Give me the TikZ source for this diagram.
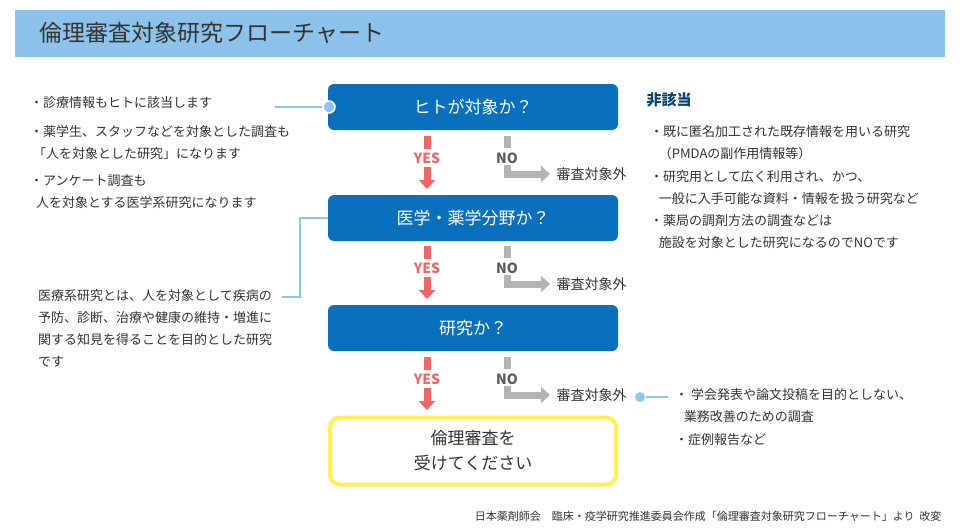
\documentclass[tikz,border=0pt]{standalone}
\usepackage{fontspec}
\setmainfont{Noto Sans CJK JP}
\usetikzlibrary{arrows.meta}
\definecolor{hdr}{HTML}{8DC3EA}
\definecolor{bluebox}{HTML}{0A70BE}
\definecolor{lblue}{HTML}{8CC6EE}
\definecolor{yesred}{HTML}{F26666}
\definecolor{nogray}{HTML}{B4B4B4}
\definecolor{txt}{HTML}{333333}
\definecolor{ylw}{HTML}{FFF150}
\begin{document}
\begin{tikzpicture}[x=1pt,y=-1pt,
 q/.style={draw=none,fill=bluebox,rounded corners=6pt,minimum width=290pt,minimum height=46pt,text=white,font=\fontsize{17}{20}\selectfont},
 t/.style={anchor=north west,text=txt,font=\fontsize{13}{22}\selectfont,align=left,inner sep=0pt},
 yes/.style={text=yesred,font=\bfseries\fontsize{14}{15}\selectfont},
 no/.style={text=txt!80,font=\bfseries\fontsize{14}{15}\selectfont},
 ex/.style={text=txt,font=\fontsize{14}{15}\selectfont,anchor=west},
 ya/.style={yesred,line width=7pt,-{Triangle[length=9pt,width=16pt]}},
 na/.style={nogray,line width=7pt,-{Triangle[length=9pt,width=16pt]}},
 dot/.style={circle,fill=lblue,draw=white,line width=1.5pt,minimum size=12pt,inner sep=0pt},
 ln/.style={lblue,line width=2pt}]
\useasboundingbox (0,0) rectangle (960,530);
\fill[white] (0,0) rectangle (960,530);
\fill[hdr] (15,10) rectangle (945,57);
\node[anchor=west,text=txt,font=\fontsize{23}{26}\selectfont] (title) at (36,33) {倫理審査対象研究フローチャート};
\node[q] (b1) at (473,107) {ヒトが対象か？};
\node[q] (b2) at (473,218) {医学・薬学分野か？};
\node[q] (b3) at (473,328) {研究か？};
\node[draw=ylw,line width=4pt,rounded corners=10pt,minimum width=286pt,minimum height=67pt,align=center,text=txt,font=\fontsize{17}{25}\selectfont] (b4) at (473,451) {倫理審査を\\受けてください};
\foreach \i/\y in {1/136,2/246,3/357}{
 \fill[yesred] (423.5,\y) rectangle (430.5,\y+13);
 \node[yes] (yes\i) at (427,\y+22) {YES};
 \coordinate (ys\i) at (427,\y+31);
 \coordinate (ye\i) at (427,\y+53);
 \draw[ya] (ys\i) -- (ye\i);
 \fill[nogray] (503.5,\y) rectangle (510.5,\y+12);
 \node[no] (no\i) at (507,\y+22) {NO};
 \coordinate (ns\i) at (507,\y+29);
 \coordinate (ne\i) at (550,\y+38);
 \draw[na] (ns\i) |- (ne\i);
 \node[ex] (ex\i) at (553,\y+38) {審査対象外};
}
% left notes
\node[dot] (d1) at (329,107) {};
\coordinate (l1) at (275,104);
\draw[ln] (d1) -- (l1 |- d1);
\node[t] (n1) at (30,96) {・診療情報もヒトに該当します};
\node[t] (n2) at (30,125) {・薬学生、スタッフなどを対象とした調査も\\\ 「人を対象とした研究」になります};
\node[t] (n3) at (30,174) {・アンケート調査も\\\ \ 人を対象とする医学系研究になります};
\coordinate (c2) at (300,297);
\draw[ln] (b2.west) -| (c2) -- (282,297);
\node[t] (n4) at (38,289) {医療系研究とは、人を対象として疾病の\\予防、診断、治療や健康の維持・増進に\\関する知見を得ることを目的とした研究\\です};
% right notes
\node[anchor=west,text=bluebox!60!black,font=\bfseries\fontsize{15}{17}\selectfont] (hg) at (643,100) {非該当};
\node[t] (r1) at (650,125) {・既に匿名加工された既存情報を用いる研究\\\ \ \ （PMDAの副作用情報等）};
\node[t] (r2) at (650,170) {・研究用として広く利用され、かつ、\\\ \ \ 一般に入手可能な資料・情報を扱う研究など};
\node[t] (r3) at (650,214) {・薬局の調剤方法の調査などは\\\ \ \ 施設を対象とした研究になるのでNOです};
\node[dot,draw=none,minimum size=10pt] (d3) at (640,397) {};
\coordinate (l3) at (668,397);
\draw[ln] (d3) -- (l3);
\node[t] (r4) at (675,388) {・ 学会発表や論文投稿を目的としない、\\\ \ \ 業務改善のための調査};
\node[t] (r5) at (675,433) {・症例報告など};
\node[anchor=east,text=txt,font=\fontsize{11}{13}\selectfont] (ft) at (945,516) {日本薬剤師会\quad 臨床・疫学研究推進委員会作成「倫理審査対象研究フローチャート」より\ \ 改変};
\end{tikzpicture}
\end{document}
